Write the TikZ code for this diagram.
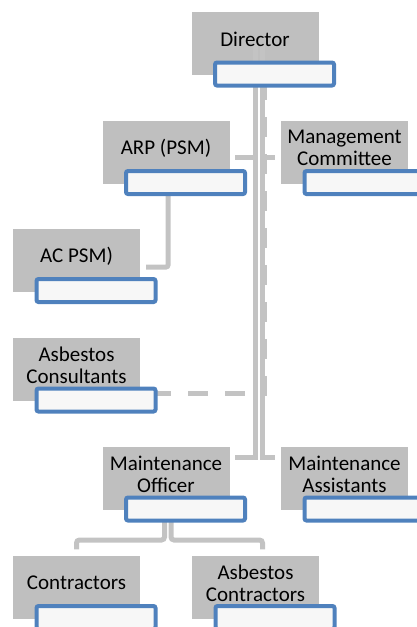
\documentclass[tikz,border=0pt]{standalone}
\usepackage{fontspec}
\setmainfont{Carlito}
\usepackage{tikz}
\definecolor{boxgrey}{HTML}{BFBFBF}
\definecolor{linegrey}{HTML}{C3C3C3}
\definecolor{tagblue}{HTML}{4F81BD}
\tikzset{
BOX/.style ={fill=boxgrey, draw=none, inner sep=0, minimum width=127pt, minimum height=63pt},
LABEL/.style ={inner sep=0, align=center, font=\fontsize{21}{22}\selectfont},
TAG/.style ={draw=tagblue, fill=white!97!black, line width=4pt, rounded corners=2pt, inner sep=0, minimum width=119pt, minimum height=23pt},
LINK/.style ={draw=linegrey, line width=5pt, line cap=butt},
DASHLINK/.style ={LINK, dash pattern=on 20pt off 17pt},
}
\begin{document}
\begin{tikzpicture} %org chart
[x=1pt, y=-1pt]
	\path[use as bounding box, clip] (0,0) rectangle (417,627);
	\coordinate (up) at (0,157);
	\coordinate (mid) at (0,393);
	\coordinate (low) at (0,457);
	\coordinate (bus) at (0,540);
	% grey boxes
	\node[BOX] (dir) at (255,43.5) {};
	\node[BOX] (arp) at (166,152) {};
	\node[BOX] (mc) at (344.5,152) {};
	\node[BOX] (acpsm) at (76.5,260) {};
	\node[BOX] (asc) at (76.5,369.5) {};
	\node[BOX] (mo) at (166,478.5) {};
	\node[BOX] (ma) at (344.5,478.5) {};
	\node[BOX] (con) at (76.5,587) {};
	\node[BOX] (acon) at (255.5,587) {};
	% links
	\path[LINK] (dir.center) |- ([xshift=5pt]arp.east |- up);
	\path[LINK] ([xshift=7.5pt]dir.center) |- ([xshift=-6pt]mc.west |- up);
	\path[LINK] (dir.center) |- ([xshift=5pt]mo.east |- low);
	\path[LINK] ([xshift=7.5pt]dir.center) |- ([xshift=-6pt]ma.west |- low);
	\path[DASHLINK] ([xshift=9.5pt,yshift=-36.5pt]dir.center) |- (asc.east |- mid);
	\path[LINK,rounded corners=2pt] ([xshift=2pt]arp.south) |- ([xshift=6pt,yshift=-7pt]acpsm.east);
	\path[LINK,rounded corners=3pt] ([xshift=-1.5pt]mo.south) |- (con.north |- bus) -- ([yshift=6pt]con.north);
	\path[LINK,rounded corners=3pt] ([xshift=5pt]mo.south) |- ([xshift=7pt]acon.north |- bus) -- ([xshift=7pt,yshift=6pt]acon.north);
	% texts
	\node[LABEL] (dir-t) at ([yshift=4pt]dir.center) {Director};
	\node[LABEL] (arp-t) at ([yshift=4pt]arp.center) {ARP (PSM)};
	\node[LABEL] (mc-t) at ([yshift=4pt]mc.center) {Management\\Committee};
	\node[LABEL] (acpsm-t) at ([yshift=4pt]acpsm.center) {AC PSM)};
	\node[LABEL] (asc-t) at ([yshift=4pt]asc.center) {Asbestos\\Consultants};
	\node[LABEL] (mo-t) at ([yshift=4pt]mo.center) {Maintenance\\Officer};
	\node[LABEL] (ma-t) at ([yshift=4pt]ma.center) {Maintenance\\Assistants};
	\node[LABEL] (con-t) at ([yshift=4pt]con.center) {Contractors};
	\node[LABEL] (acon-t) at ([yshift=4pt]acon.center) {Asbestos\\Contractors};
	% blue tags
	\node[TAG] (dir-b) at ([shift={(19.5,30.5)}]dir.center) {};
	\node[TAG] (arp-b) at ([shift={(19.5,30.5)}]arp.center) {};
	\node[TAG] (mc-b) at ([shift={(19.5,30.5)}]mc.center) {};
	\node[TAG] (acpsm-b) at ([shift={(19.5,30.5)}]acpsm.center) {};
	\node[TAG] (asc-b) at ([shift={(19.5,30.5)}]asc.center) {};
	\node[TAG] (mo-b) at ([shift={(19.5,30.5)}]mo.center) {};
	\node[TAG] (ma-b) at ([shift={(19.5,30.5)}]ma.center) {};
	\node[TAG] (con-b) at ([shift={(19.5,30.5)}]con.center) {};
	\node[TAG] (acon-b) at ([shift={(19.5,30.5)}]acon.center) {};
\end{tikzpicture}
\end{document}
